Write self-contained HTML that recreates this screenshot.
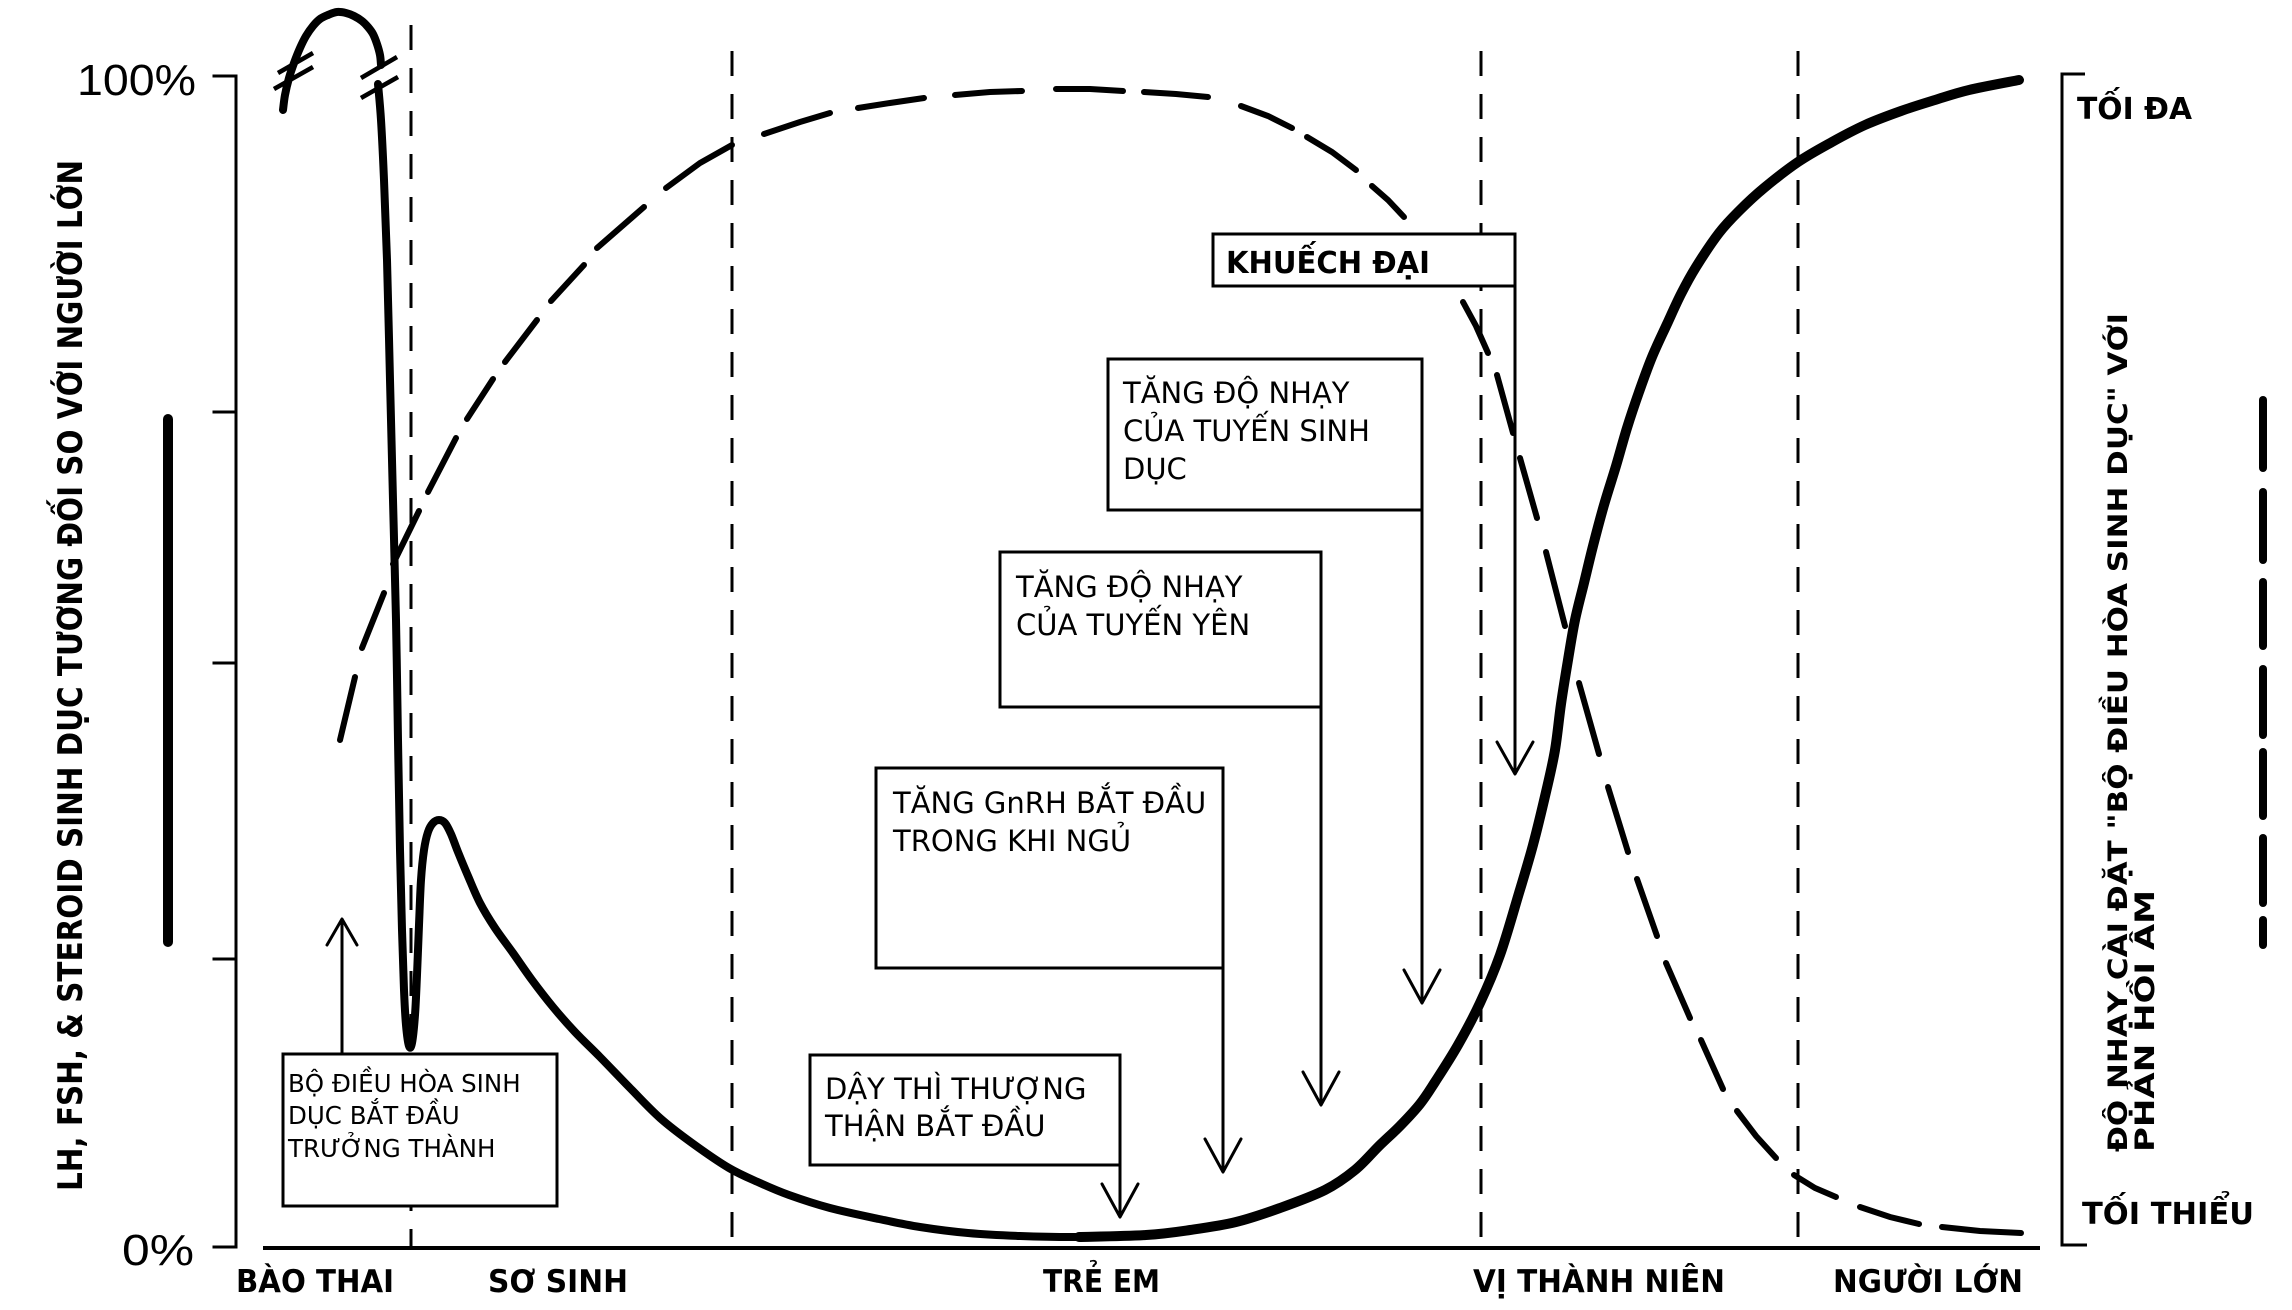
<!DOCTYPE html>
<html>
<head>
<meta charset="utf-8">
<style>
html,body{margin:0;padding:0;background:#fff;}
svg{display:block;}
.bx{font-family:"DejaVu Sans","Liberation Sans",sans-serif;font-size:29px;fill:#000;}
.bd{font-family:"DejaVu Sans","Liberation Sans",sans-serif;font-weight:bold;fill:#000;}
</style>
</head>
<body>
<svg id="chart" width="2292" height="1310" viewBox="0 0 2292 1310" xmlns="http://www.w3.org/2000/svg">
<rect x="0" y="0" width="2292" height="1310" fill="#fff"/>

<!-- Y axis -->
<g stroke="#000" stroke-width="3" fill="none" stroke-linecap="square">
  <line x1="236" y1="76" x2="236" y2="1247"/>
  <line x1="214" y1="76" x2="236" y2="76"/>
  <line x1="214" y1="412" x2="236" y2="412"/>
  <line x1="214" y1="663" x2="236" y2="663"/>
  <line x1="214" y1="959" x2="236" y2="959"/>
  <line x1="214" y1="1247" x2="236" y2="1247"/>
</g>
<!-- X axis -->
<line x1="263" y1="1248" x2="2040" y2="1248" stroke="#000" stroke-width="4"/>

<!-- right bracket -->
<g stroke="#000" stroke-width="3" fill="none">
  <polyline points="2085,74 2062,74 2062,1245 2087,1245"/>
</g>

<!-- vertical dashed lines -->
<g stroke="#000" stroke-width="3" stroke-dasharray="25 18" fill="none">
  <line x1="411" y1="25" x2="411" y2="1246"/>
  <line x1="732" y1="51" x2="732" y2="1246"/>
  <line x1="1481" y1="51" x2="1481" y2="1240"/>
  <line x1="1798" y1="51" x2="1798" y2="1240"/>
</g>

<!-- legend bars -->
<line x1="168" y1="419" x2="168" y2="942" stroke="#000" stroke-width="10" stroke-linecap="round"/>
<g stroke="#000" stroke-width="8" stroke-linecap="round">
  <line x1="2263" y1="400" x2="2263" y2="468"/>
  <line x1="2263" y1="492" x2="2263" y2="560"/>
  <line x1="2263" y1="582" x2="2263" y2="646"/>
  <line x1="2263" y1="669" x2="2263" y2="735"/>
  <line x1="2263" y1="752" x2="2263" y2="816"/>
  <line x1="2263" y1="838" x2="2263" y2="903"/>
  <line x1="2263" y1="920" x2="2263" y2="945"/>
</g>

<!-- dashed curve (negative feedback sensitivity) -->
<g stroke="#000" stroke-width="6" stroke-linecap="round" fill="none">
  <line x1="340" y1="740" x2="355" y2="677"/>
  <line x1="362" y1="648" x2="384" y2="593"/>
  <line x1="393" y1="564" x2="419" y2="511"/>
  <line x1="428" y1="492" x2="456" y2="438"/>
  <line x1="467" y1="419" x2="493" y2="379"/>
  <line x1="505" y1="362" x2="537" y2="320"/>
  <line x1="551" y1="301" x2="584" y2="265"/>
  <line x1="597" y1="248" x2="644" y2="207"/>
  <polyline points="666,188 700,163 732,145"/>
  <polyline points="764,134 800,122 830,113"/>
  <polyline points="858,108 890,103 924,98"/>
  <polyline points="955,95 990,92 1022,91"/>
  <polyline points="1056,89 1090,89 1123,91"/>
  <polyline points="1144,92 1176,94 1208,97"/>
  <polyline points="1241,106 1268,116 1292,128"/>
  <polyline points="1307,137 1332,152 1356,170"/>
  <polyline points="1372,186 1388,200 1404,217"/>
  <polyline points="1463,302 1476,326 1488,353"/>
  <line x1="1497" y1="375" x2="1513" y2="433"/>
  <line x1="1520" y1="458" x2="1537" y2="518"/>
  <line x1="1546" y1="552" x2="1565" y2="626"/>
  <line x1="1579" y1="683" x2="1599" y2="754"/>
  <line x1="1608" y1="787" x2="1628" y2="852"/>
  <line x1="1637" y1="879" x2="1657" y2="936"/>
  <line x1="1666" y1="963" x2="1690" y2="1018"/>
  <line x1="1701" y1="1040" x2="1723" y2="1089"/>
  <polyline points="1737,1111 1756,1136 1776,1158"/>
  <polyline points="1794,1175 1815,1188 1836,1197"/>
  <polyline points="1860,1207 1890,1217 1919,1224"/>
  <polyline points="1942,1227 1980,1231 2021,1233"/>
</g>

<!-- solid curve -->
<g stroke="#000" fill="none" stroke-linecap="round" stroke-linejoin="round">
  <polyline class="smooth" stroke-width="8" points="283,110 285,95 289,78 294,63 300,48 306,36 313,26 320,19 328,15 337,12 346,13 354,16 362,21 368,27 373,34 377,44 380,55 381,65"/>
  <g stroke-width="4.5" stroke-linecap="butt">
    <line x1="278" y1="73" x2="313" y2="53"/>
    <line x1="274" y1="89" x2="313" y2="67"/>
    <line x1="361" y1="78" x2="397" y2="57"/>
    <line x1="361" y1="98" x2="398" y2="77"/>
  </g>
  <polyline class="smooth" stroke-width="8" points="378,84 381,120 384,180 387,260 390,380 393,500 396,620 398,740 400,850 402,930 404,990 406,1025 409,1046 412,1043 415,1015 417,975 419,925 421,880 424,850 428,832 433,823 439,820 445,823 451,834 458,852 468,876 480,903 495,928 513,953 532,980 553,1007 575,1032 600,1057 630,1088 660,1118 692,1143 729,1168 760,1183 789,1195 830,1208 879,1219 920,1227 968,1233 1020,1236 1079,1237 1146,1235"/>
  <polyline class="smooth" stroke-width="10" points="1079,1237 1146,1235 1190,1230 1236,1222 1280,1208 1325,1190 1355,1170 1379,1146 1400,1126 1420,1104 1435,1082 1458,1045 1480,1003 1500,955 1519,893 1533,845 1546,792 1555,750 1561,704 1568,660 1575,620 1584,583 1593,546 1604,505 1616,466 1627,428 1639,392 1652,357 1667,324 1681,294 1696,267 1719,233 1740,210 1764,188 1798,162 1832,142 1865,125 1901,111 1935,100 1969,90 2019,80"/>
</g>

<!-- Boxes -->
<g stroke="#000" stroke-width="3" fill="#fff">
  <rect x="283" y="1054" width="274" height="152"/>
  <rect x="810" y="1055" width="310" height="110"/>
  <rect x="876" y="768" width="347" height="200"/>
  <rect x="1000" y="552" width="321" height="155"/>
  <rect x="1108" y="359" width="314" height="151"/>
  <rect x="1213" y="234" width="302" height="52"/>
</g>

<!-- Arrows -->
<g stroke="#000" stroke-width="3" fill="none" stroke-linecap="round" stroke-linejoin="round">
  <line x1="342" y1="1054" x2="342" y2="920"/>
  <polyline points="327,945 342,919 357,945"/>

  <line x1="1120" y1="1165" x2="1120" y2="1216"/>
  <polyline points="1102,1184 1120,1217 1138,1184"/>

  <line x1="1223" y1="968" x2="1223" y2="1171"/>
  <polyline points="1205,1139 1223,1172 1241,1139"/>

  <line x1="1321" y1="707" x2="1321" y2="1104"/>
  <polyline points="1303,1072 1321,1105 1339,1072"/>

  <line x1="1422" y1="510" x2="1422" y2="1002"/>
  <polyline points="1404,970 1422,1003 1440,970"/>

  <line x1="1515" y1="286" x2="1515" y2="773"/>
  <polyline points="1497,742 1515,774 1533,742"/>
</g>

<!-- Box texts -->
<text class="bx" style="font-size:24.5px" x="288" y="1092">BỘ ĐIỀU HÒA SINH</text>
<text class="bx" style="font-size:24.5px" x="288" y="1124">DỤC BẮT ĐẦU</text>
<text class="bx" style="font-size:24.5px" x="288" y="1157">TRƯỞNG THÀNH</text>

<text class="bx" x="825" y="1099">DẬY THÌ THƯỢNG</text>
<text class="bx" x="825" y="1136">THẬN BẮT ĐẦU</text>

<text class="bx" x="893" y="813">TĂNG GnRH BẮT ĐẦU</text>
<text class="bx" x="893" y="851">TRONG KHI NGỦ</text>

<text class="bx" x="1016" y="597">TĂNG ĐỘ NHẠY</text>
<text class="bx" x="1016" y="635">CỦA TUYẾN YÊN</text>

<text class="bx" x="1123" y="403">TĂNG ĐỘ NHẠY</text>
<text class="bx" x="1123" y="441">CỦA TUYẾN SINH</text>
<text class="bx" x="1123" y="479">DỤC</text>

<text class="bd" x="1226" y="273" font-size="30" textLength="204" lengthAdjust="spacingAndGlyphs">KHUẾCH ĐẠI</text>

<!-- Axis numbers -->
<text x="77" y="95" font-family="Liberation Sans, sans-serif" font-size="44" textLength="119" lengthAdjust="spacingAndGlyphs">100%</text>
<text x="122" y="1265" font-family="Liberation Sans, sans-serif" font-size="44" textLength="72" lengthAdjust="spacingAndGlyphs">0%</text>

<!-- Right labels -->
<text class="bd" x="2077" y="119" font-size="30" textLength="115" lengthAdjust="spacingAndGlyphs">TỐI ĐA</text>
<text class="bd" x="2082" y="1224" font-size="30" textLength="172" lengthAdjust="spacingAndGlyphs">TỐI THIỂU</text>

<!-- X labels -->
<text class="bd" x="236" y="1292" font-size="31" textLength="158" lengthAdjust="spacingAndGlyphs">BÀO THAI</text>
<text class="bd" x="488" y="1292" font-size="31" textLength="140" lengthAdjust="spacingAndGlyphs">SƠ SINH</text>
<text class="bd" x="1043" y="1292" font-size="31" textLength="117" lengthAdjust="spacingAndGlyphs">TRẺ EM</text>
<text class="bd" x="1473" y="1292" font-size="31" textLength="252" lengthAdjust="spacingAndGlyphs">VỊ THÀNH NIÊN</text>
<text class="bd" x="1833" y="1292" font-size="31" textLength="190" lengthAdjust="spacingAndGlyphs">NGƯỜI LỚN</text>

<!-- Y axis title -->
<text class="bd" transform="translate(82,1191) rotate(-90)" font-size="34" textLength="1031" lengthAdjust="spacingAndGlyphs">LH, FSH, &amp; STEROID SINH DỤC TƯƠNG ĐỐI SO VỚI NGƯỜI LỚN</text>

<!-- Right title -->
<text class="bd" transform="translate(2127,1152) rotate(-90)" font-size="27" textLength="839" lengthAdjust="spacingAndGlyphs">ĐỘ NHẠY CÀI ĐẶT "BỘ ĐIỀU HÒA SINH DỤC" VỚI</text>
<text class="bd" transform="translate(2154,1152) rotate(-90)" font-size="27" textLength="262" lengthAdjust="spacingAndGlyphs">PHẢN HỒI ÂM</text>
</svg>
<script>
(function(){
  var NS='http://www.w3.org/2000/svg';
  var list=document.querySelectorAll('polyline.smooth');
  for(var k=0;k<list.length;k++){
    var pl=list[k];
    var raw=pl.getAttribute('points').trim().split(/\s+/);
    var pts=[];
    for(var j=0;j<raw.length;j++){var a=raw[j].split(',');pts.push([+a[0],+a[1]]);}
    var d='M'+pts[0][0]+','+pts[0][1];
    for(var i=0;i<pts.length-1;i++){
      var p0=pts[i-1]||pts[i],p1=pts[i],p2=pts[i+1],p3=pts[i+2]||pts[i+1];
      var c1x=p1[0]+(p2[0]-p0[0])/6,c1y=p1[1]+(p2[1]-p0[1])/6;
      var c2x=p2[0]-(p3[0]-p1[0])/6,c2y=p2[1]-(p3[1]-p1[1])/6;
      d+=' C'+c1x.toFixed(2)+','+c1y.toFixed(2)+' '+c2x.toFixed(2)+','+c2y.toFixed(2)+' '+p2[0]+','+p2[1];
    }
    var path=document.createElementNS(NS,'path');
    path.setAttribute('d',d);
    path.setAttribute('stroke-width',pl.getAttribute('stroke-width'));
    pl.parentNode.replaceChild(path,pl);
  }
})();
</script>
</body>
</html>
